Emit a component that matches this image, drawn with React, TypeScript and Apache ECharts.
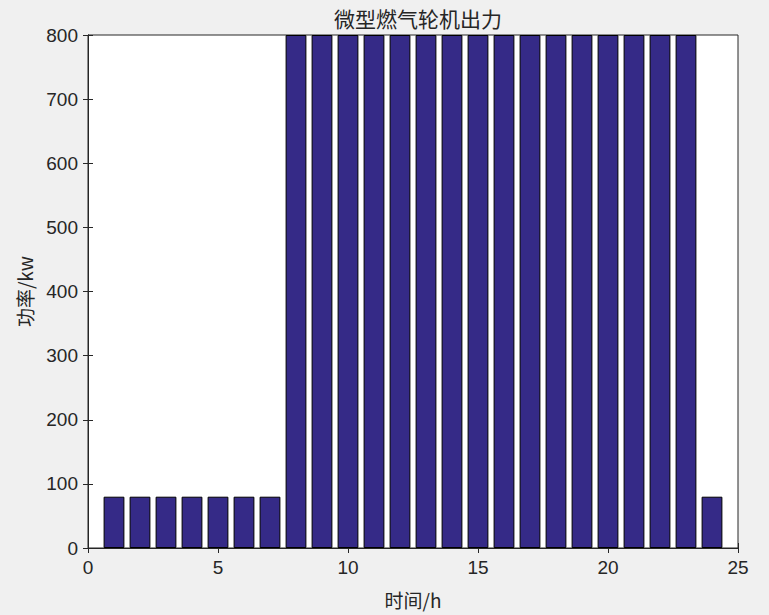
import React, { useEffect, useRef } from "react";
import * as echarts from "echarts";

const hours = [1, 2, 3, 4, 5, 6, 7, 8, 9, 10, 11, 12, 13, 14, 15, 16, 17, 18, 19, 20, 21, 22, 23, 24];
const power = [80, 80, 80, 80, 80, 80, 80, 800, 800, 800, 800, 800, 800, 800, 800, 800, 800, 800, 800, 800, 800, 800, 800, 80];
const titleText = "微型燃气轮机出力";
const xName = "时间/h";
const yName = "功率/kw";

const FONT = "'Liberation Sans', 'Noto Sans CJK SC', sans-serif";
const CJK = "'Noto Sans CJK SC', 'Liberation Sans', sans-serif";
const AX = "#262626";

export default function App() {
  const ref = useRef<HTMLDivElement>(null);
  useEffect(() => {
    const chart = echarts.init(ref.current!, null, { renderer: "svg" });
    const tick = { show: true, inside: true, length: 5, lineStyle: { color: AX, width: 1 } };
    chart.setOption({
      animation: false,
      backgroundColor: "#f0f0f0",
      title: {
        text: titleText,
        left: 413,
        top: 2,
        textAlign: "center",
        textStyle: { fontFamily: CJK, fontSize: 21, fontWeight: "normal", color: AX },
      },
      grid: {
        left: 88,
        right: 31,
        top: 35,
        bottom: 67,
        show: true,
        backgroundColor: "#ffffff",
        borderColor: AX,
        borderWidth: 1,
      },
      xAxis: [
        {
          type: "value",
          min: 0,
          max: 25,
          interval: 5,
          name: xName,
          nameLocation: "middle",
          nameGap: 42,
          nameTextStyle: { fontFamily: CJK, fontSize: 19, color: AX },
          axisLine: { show: true, lineStyle: { color: AX } },
          axisTick: tick,
          axisLabel: { fontFamily: FONT, fontSize: 19, color: AX, margin: 10 },
          splitLine: { show: false },
        },
        {
          type: "value",
          position: "top",
          min: 0,
          max: 25,
          interval: 5,
          axisLine: { show: true, lineStyle: { color: AX } },
          axisTick: tick,
          axisLabel: { show: false },
          splitLine: { show: false },
        },
      ],
      yAxis: [
        {
          type: "value",
          min: 0,
          max: 800,
          interval: 100,
          name: yName,
          nameLocation: "middle",
          nameGap: 54,
          nameTextStyle: { fontFamily: CJK, fontSize: 19, color: AX },
          axisLine: { show: true, lineStyle: { color: AX } },
          axisTick: tick,
          axisLabel: { fontFamily: FONT, fontSize: 19, color: AX, margin: 10 },
          splitLine: { show: false },
        },
        {
          type: "value",
          position: "right",
          min: 0,
          max: 800,
          interval: 100,
          axisLine: { show: true, lineStyle: { color: AX } },
          axisTick: tick,
          axisLabel: { show: false },
          splitLine: { show: false },
        },
      ],
      series: [
        {
          type: "bar",
          xAxisIndex: 0,
          yAxisIndex: 0,
          data: hours.map((h, i) => [h, power[i]]),
          barWidth: 20.8,
          itemStyle: { color: "#352a87", borderColor: "#000000", borderWidth: 1 },
        },
      ],
    });
    return () => chart.dispose();
  }, []);
  return <div ref={ref} style={{ position: "fixed", left: 0, top: 0, width: 769, height: 615 }} />;
}
